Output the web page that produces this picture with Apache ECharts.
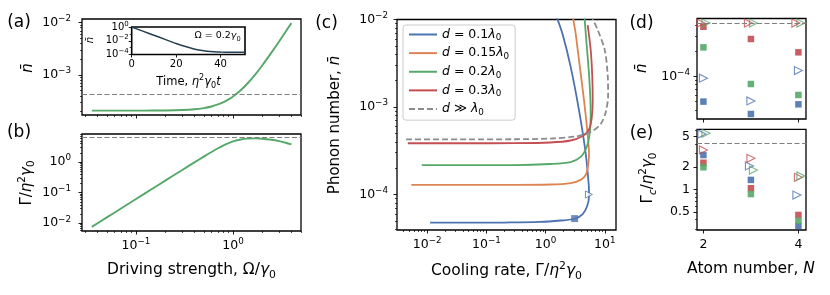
<!DOCTYPE html>
<html><head><meta charset="utf-8">
<script src="https://cdn.jsdelivr.net/npm/echarts@6/dist/echarts.min.js"></script>
<style>html,body{margin:0;padding:0;background:#fff}#c{width:830px;height:295px}</style>
</head><body><div id="c"></div><script>
// ---------------- DATA ----------------
// (a),(b): vs driving strength
const omega      = [0.035,0.05,0.07,0.1,0.15,0.2,0.3,0.4,0.5,0.6,0.7,0.8,0.9,1.0,1.2,1.4,1.7,2.0,2.5,3.0,3.5,4.0];
const nbarDrive  = [2.08e-4,2.08e-4,2.08e-4,2.08e-4,2.09e-4,2.1e-4,2.14e-4,2.21e-4,2.33e-4,2.5e-4,2.73e-4,3.03e-4,3.41e-4,3.88e-4,5.1e-4,6.8e-4,1.03e-3,1.52e-3,2.7e-3,4.4e-3,6.8e-3,9.8e-3];
const rateDrive  = [0.0076,0.0155,0.0304,0.062,0.139,0.247,0.555,0.98,1.52,2.15,2.85,3.55,4.2,4.75,5.5,5.9,6.0,5.85,5.4,4.85,4.3,3.8];
const refNbar    = 4.25e-4;
const refRateB   = 6.5;
// inset
const insetTime  = [0,5,10,15,20,25,28,31,34,37,40,45,51];
const insetNbar  = [1.0,0.25,0.063,0.0158,4.0e-3,1.21e-3,6.5e-4,4.0e-4,2.93e-4,2.46e-4,2.26e-4,2.14e-4,2.1e-4];
// (c): parametric curves (rate, nbar)
const rateD01 = [0.0112,0.05,0.2,0.8,1.8,3.1,4.24,5.05,5.42,5.36,4.76,3.67,2.65,1.92,1.55];
const nbarD01 = [4.76e-5,4.76e-5,4.78e-5,4.85e-5,5.04e-5,5.28e-5,5.98e-5,7.39e-5,9.6e-5,1.29e-4,2.96e-4,9.2e-4,2.89e-3,6.95e-3,1.05e-2];
const rateD015 = [0.0054,0.05,0.3,1.2,2.65,3.92,4.76,5.25,5.42,5.15,4.46,3.67,3.22,2.9];
const nbarD015 = [1.29e-4,1.29e-4,1.29e-4,1.3e-4,1.35e-4,1.47e-4,1.67e-4,2.17e-4,2.96e-4,4.79e-4,1.2e-3,3.44e-3,6.95e-3,1.05e-2];
const rateD02 = [0.0081,0.05,0.3,1.2,2.65,3.92,4.95,5.57,5.79,5.68,5.36,4.95,4.55];
const nbarD02 = [2.17e-4,2.17e-4,2.17e-4,2.23e-4,2.35e-4,2.69e-4,3.49e-4,5.04e-4,8.1e-4,1.37e-3,2.65e-3,5.11e-3,1.05e-2];
const rateD03 = [0.0047,0.05,0.3,1.2,2.65,4.24,5.36,6.02,6.26,6.14,5.79,5.15];
const nbarD03 = [3.85e-4,3.85e-4,3.86e-4,3.93e-4,4.14e-4,4.67e-4,5.46e-4,7.48e-4,1.2e-3,2.32e-3,4.48e-3,8.65e-3];
const rateInf = [0.0044,0.05,0.3,1.2,3.22,5.79,8.55,10.4,11.4,11.2,10.0,7.61,6.1];
const nbarInf = [4.27e-4,4.27e-4,4.28e-4,4.36e-4,4.6e-4,5.18e-4,6.4e-4,8.77e-4,1.37e-3,2.32e-3,4.48e-3,7.59e-3,1.05e-2];
const markSquareC = [3.1, 5.3e-5];
const markTriC    = [5.4, 1.0e-4];
const legendNames = ['d = 0.1λ0','d = 0.15λ0','d = 0.2λ0','d = 0.3λ0','d ≫ λ0'];
// (d),(e): vs atom number
const atomN = [2,3,4];
const dSqBlue  = [5.0e-5,3.56e-5,4.64e-5];
const dSqGreen = [2.21e-4,8.1e-5,6.0e-5];
const dSqRed   = [3.89e-4,2.78e-4,1.93e-4];
const dTriBlue  = [9.5e-5,5.1e-5,1.17e-4];
const dTriGreen = [4.3e-4,4.3e-4,4.3e-4];
const dTriRed   = [4.3e-4,4.3e-4,4.3e-4];
const eSqBlue  = [2.86,1.34,0.33];
const eSqRed   = [2.26,1.04,0.46];
const eSqGreen = [1.97,0.87,0.386];
const eTriBlue  = [5.43,2.05,0.845];
const eTriRed   = [3.34,2.59,1.45];
const eTriGreen = [5.55,1.81,1.51];
const refRateE = 4.1;
// tick labels
const tickOmega  = [0.1,1];
const tickNbarA  = [1e-3,1e-2];
const tickRateB  = [0.01,0.1,1];
const tickInsetT = [0,20,40];
const tickInsetN = [1e-4,1e-2,1];
const tickRateC  = [0.01,0.1,1,10];
const tickNbarC  = [1e-4,1e-3,1e-2];
const tickNbarD  = [1e-4];
const tickRateE  = [0.5,1,2,5];
const tickAtom   = [2,4];

// ---------------- STYLE / HELPERS ----------------
const F = "'DejaVu Sans', sans-serif";
const BLUE='#4c72b0', ORANGE='#dd8452', GREEN='#55a868', RED='#c44e52', GRAY='#8c8c8c', DARK='#233f52';
const TICK = 12.5;
const lg = Math.log10;
function rich(S, lh){ lh = lh || 1.35; return {
  n:{fontFamily:F,fontSize:S,lineHeight:S*lh,color:'#000'},
  i:{fontFamily:F,fontSize:S,lineHeight:S*lh,fontStyle:'italic',color:'#000'},
  s:{fontFamily:F,fontSize:S*0.7,lineHeight:S*0.7,verticalAlign:'top',color:'#000'},
  u:{fontFamily:F,fontSize:S*0.7,lineHeight:S*0.75,verticalAlign:'bottom',color:'#000'},
  ui:{fontFamily:F,fontSize:S*0.7,lineHeight:S*0.75,verticalAlign:'bottom',fontStyle:'italic',color:'#000'}
};}
function pow10Fmt(v){const e=Math.round(v);return '{n|10}{s|'+(e<0?'\u2212':'')+Math.abs(e)+'}';}
function plainLogFmt(v){return '{n|'+(+Math.pow(10,v).toPrecision(2))+'}';}
function linFmt(v){return '{n|'+Math.round(v)+'}';}
function logMinors(r){const a=[];for(let e=Math.floor(r[0]);e<=Math.ceil(r[1]);e++)for(let k=2;k<=9;k++){const v=e+lg(k);if(v>r[0]&&v<r[1])a.push(v);}return a;}
const xAxis=[], yAxis=[];
function addAxes(list, grid, range, pos, majors, minors, fmt, o){
  o=o||{};
  const base=()=>({type:'value',gridIndex:grid,min:range[0],max:range[1],position:pos,
    axisLine:{show:false,onZero:false},splitLine:{show:false},splitArea:{show:false}});
  const a=base();
  a.axisTick={show:true,inside:false,length:o.ml||3.5,lineStyle:{color:'#000',width:0.9},customValues:majors};
  a.axisLabel=fmt?{show:true,customValues:majors,formatter:fmt,margin:(o.margin!=null?o.margin:6),rich:rich(o.fs||TICK),fontFamily:F,fontSize:o.fs||TICK,color:'#000'}:{show:false};
  list.push(a); const idx=list.length-1;
  if(minors&&minors.length){const b=base();
    b.axisTick={show:true,inside:false,length:o.nl||2,lineStyle:{color:'#000',width:0.7},customValues:minors};
    b.axisLabel={show:false}; list.push(b);}
  return idx;
}
function xy(xs,ys,fx,fy){return xs.map((x,i)=>[fx(x),fy(ys[i])]);}
const LL=(xs,ys)=>xy(xs,ys,lg,lg);

// ranges (log10 space where log)
const rOm=[-1.557,0.701], rA=[-3.765,-1.93], rB=[-2.255,0.921];
const rIT=[0,51], rIN=[-4,0];
const rCx=[-2.51,1.19], rCy=[-4.406,-2];
const rN=[1.865,4.16], rD=[-4.508,-3.312], rE=[-0.536,0.797];

const grid=[
  {left:82,top:19,width:219,height:96},
  {left:131.7,top:27,width:113.3,height:27.5},
  {left:82,top:134,width:219,height:97},
  {left:397,top:19.5,width:219,height:210.5},
  {left:697,top:18.5,width:109,height:100.5},
  {left:697,top:129.3,width:109,height:100.7}
].map((g,i)=>Object.assign({show:true,borderColor:'#000',borderWidth:i===1?1.6:1.3,backgroundColor:i===1?'#fff':'transparent',z:i===1?3:0},g));

const xa = addAxes(xAxis,0,rOm,'bottom',tickOmega.map(lg),logMinors(rOm),null);
const ya = addAxes(yAxis,0,rA,'left',tickNbarA.map(lg),logMinors(rA),pow10Fmt,{margin:11});
const xi = addAxes(xAxis,1,rIT,'bottom',tickInsetT,null,linFmt,{fs:10,ml:3,margin:3});
const yi = addAxes(yAxis,1,rIN,'left',tickInsetN.map(lg),[-1,-3],pow10Fmt,{fs:10,ml:3,margin:3});
const xb = addAxes(xAxis,2,rOm,'bottom',tickOmega.map(lg),logMinors(rOm),pow10Fmt,{margin:6});
const yb = addAxes(yAxis,2,rB,'left',tickRateB.map(lg),logMinors(rB),pow10Fmt,{margin:11});
const xc = addAxes(xAxis,3,rCx,'bottom',tickRateC.map(lg),logMinors(rCx),pow10Fmt,{margin:6});
const yc = addAxes(yAxis,3,rCy,'left',tickNbarC.map(lg),logMinors(rCy),pow10Fmt,{margin:9});
const xd = addAxes(xAxis,4,rN,'bottom',tickAtom,null,null);
const yd = addAxes(yAxis,4,rD,'left',tickNbarD.map(lg),logMinors(rD),pow10Fmt,{margin:7});
const xe = addAxes(xAxis,5,rN,'bottom',tickAtom,null,linFmt,{margin:6});
const ye = addAxes(yAxis,5,rE,'left',tickRateE.map(lg),[0.3,0.4,0.6,0.7,0.8,0.9,3,4,6].map(lg),plainLogFmt,{margin:7});

const dashRef = (v)=>({silent:true,symbol:'none',animation:false,label:{show:false},
  lineStyle:{color:'#7f7f7f',type:[5,2.5],width:1.1},data:[{yAxis:lg(v)}]});

const series=[];
series.push({type:'line',xAxisIndex:xa,yAxisIndex:ya,data:LL(omega,nbarDrive),symbol:'none',smooth:0.3,lineStyle:{color:GREEN,width:1.9},markLine:dashRef(refNbar)});
series.push({type:'line',xAxisIndex:xi,yAxisIndex:yi,data:xy(insetTime,insetNbar,t=>t,lg),symbol:'none',smooth:0.3,z:5,lineStyle:{color:DARK,width:1.5}});
series.push({type:'line',xAxisIndex:xb,yAxisIndex:yb,data:LL(omega,rateDrive),symbol:'none',smooth:0.3,lineStyle:{color:GREEN,width:1.9},markLine:dashRef(refRateB)});
const curves=[[rateD01,nbarD01,BLUE],[rateD015,nbarD015,ORANGE],[rateD02,nbarD02,GREEN],[rateD03,nbarD03,RED],[rateInf,nbarInf,GRAY]];
curves.forEach((c,i)=>{
  series.push({type:'line',name:legendNames[i],xAxisIndex:xc,yAxisIndex:yc,data:LL(c[0],c[1]),symbol:'none',smooth:0.3,
    itemStyle:{color:c[2]},lineStyle:{color:c[2],width:1.8,type:i===4?[6,3]:'solid'}});
});
series.push({type:'scatter',xAxisIndex:xc,yAxisIndex:yc,data:[[lg(markSquareC[0]),lg(markSquareC[1])]],symbol:'rect',symbolSize:7,itemStyle:{color:BLUE},z:4});
series.push({type:'scatter',xAxisIndex:xc,yAxisIndex:yc,data:[[lg(markTriC[0]),lg(markTriC[1])]],symbol:'triangle',symbolRotate:-90,symbolSize:7,itemStyle:{color:'#fff',borderColor:BLUE,borderWidth:1},z:4});

function sq(xi_,yi_,vals,col){return {type:'scatter',xAxisIndex:xi_,yAxisIndex:yi_,data:xy(atomN,vals,x=>x,lg),symbol:'rect',symbolSize:6.5,itemStyle:{color:col,opacity:0.9},z:3};}
function tri(xi_,yi_,vals,col,dx){return {type:'scatter',xAxisIndex:xi_,yAxisIndex:yi_,data:xy(atomN,vals,x=>x,lg),symbol:'triangle',symbolRotate:-90,symbolSize:8,symbolOffset:[dx,0],itemStyle:{color:'rgba(255,255,255,0)',borderColor:col,borderWidth:1.1},z:4};}
series.push(sq(xd,yd,dSqBlue,BLUE),sq(xd,yd,dSqGreen,GREEN),sq(xd,yd,dSqRed,RED));
series.push(tri(xd,yd,dTriBlue,BLUE,0),tri(xd,yd,dTriGreen,GREEN,2.5),tri(xd,yd,dTriRed,RED,-2.5));
series[series.length-3].markLine=dashRef(refNbar);
series.push(sq(xe,ye,eSqBlue,BLUE),sq(xe,ye,eSqRed,RED),sq(xe,ye,eSqGreen,GREEN));
series.push(tri(xe,ye,eTriBlue,BLUE,-1.5),tri(xe,ye,eTriRed,RED,0),tri(xe,ye,eTriGreen,GREEN,2.5));
series[series.length-3].markLine=dashRef(refRateE);

function legendRich(name){
  if(name.indexOf('≫')>=0) return '{i|d}{n| ≫ }{i|λ}{u|0}';
  const num=name.replace('d = ','').replace('λ0','');
  return '{i|d}{n| = '+num+'}{i|λ}{u|0}';
}

const T=(x,y,text,fs,extra)=>Object.assign({type:'text',x:x,y:y,silent:true,z:10,
  style:{text:text,rich:rich(fs),align:'center',verticalAlign:'middle',fontFamily:F,fontSize:fs,fill:'#000'}},extra||{});
const R={rotation:Math.PI/2};
const graphic=[
  T(19,23,'{n|(a)}',17), T(19,133,'{n|(b)}',17), T(326.5,23.3,'{n|(c)}',17), T(641.5,24,'{n|(d)}',17), T(641.5,133.3,'{n|(e)}',17),
  T(28,68,'{i|n̄}',15,R),
  T(26.7,183,'{n|Γ/}{i|η}{s|2}{i|γ}{u|0}',15,R),
  T(335,125,'{n|Phonon number, }{i|n̄}',15,R),
  T(641.7,68.3,'{i|n̄}',15,R),
  T(648.3,178,'{n|Γ}{ui|c}{n|/}{i|η}{s|2}{i|γ}{u|0}',15,R),
  T(191.5,270,'{n|Driving strength, Ω/}{i|γ}{u|0}',15.5),
  T(506.5,271,'{n|Cooling rate, Γ/}{i|η}{s|2}{i|γ}{u|0}',15.5),
  T(751,269,'{n|Atom number, }{i|N}',15.5),
  T(90,40,'{i|n̄}',10,R),
  T(188.5,81.7,'{n|Time, }{i|η}{s|2}{i|γ}{u|0}{i|t}',11.5),
  T(217.5,36,'{n|Ω = 0.2}{i|γ}{u|0}',9.5)
];

const option={
  animation:false, backgroundColor:'#fff',
  grid:grid, xAxis:xAxis, yAxis:yAxis, series:series, graphic:graphic,
  legend:{show:true,left:403,top:25,orient:'vertical',itemWidth:28,itemHeight:14,itemGap:4,padding:[3,6,3,5],
    backgroundColor:'rgba(255,255,255,0.8)',borderColor:'#cccccc',borderWidth:1,borderRadius:3,
    itemStyle:{opacity:0,color:'rgba(0,0,0,0)',borderWidth:0},
    data:legendNames,formatter:legendRich,textStyle:{rich:rich(12.5,1.3),fontFamily:F,fontSize:12.5}}
};
const chart=echarts.init(document.getElementById('c'),null,{renderer:'canvas'});
chart.setOption(option);
</script></body></html>
